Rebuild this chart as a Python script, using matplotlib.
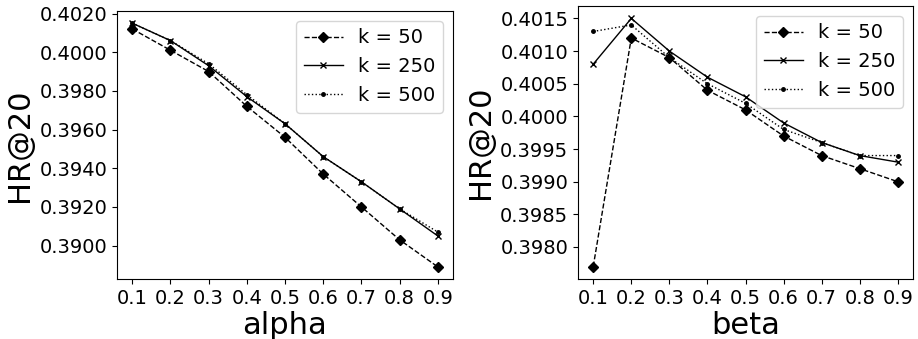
import matplotlib
matplotlib.use("Agg")
import matplotlib.pyplot as plt
from matplotlib.ticker import FormatStrFormatter

# sweep values for the two hyper-parameters
params = [0.1, 0.2, 0.3, 0.4, 0.5, 0.6, 0.7, 0.8, 0.9]
k_labels = ["k = 50", "k = 250", "k = 500"]

# HR@20 while varying alpha
alpha_k50 = [0.4012, 0.4001, 0.3990, 0.3972, 0.3956, 0.3937, 0.3920, 0.3903, 0.3889]
alpha_k250 = [0.4015, 0.4006, 0.3993, 0.3977, 0.3963, 0.3946, 0.3933, 0.3919, 0.3905]
alpha_k500 = [0.4015, 0.4006, 0.3994, 0.3978, 0.3963, 0.3946, 0.3933, 0.3919, 0.3907]

# HR@20 while varying beta
beta_k50 = [0.3977, 0.4012, 0.4009, 0.4004, 0.4001, 0.3997, 0.3994, 0.3992, 0.3990]
beta_k250 = [0.4008, 0.4015, 0.4010, 0.4006, 0.4003, 0.3999, 0.3996, 0.3994, 0.3993]
beta_k500 = [0.4013, 0.4014, 0.4009, 0.4005, 0.4002, 0.3998, 0.3996, 0.3994, 0.3994]

styles = [
    dict(linestyle="--", marker="D", markersize=4.8),
    dict(linestyle="-", marker="x", markersize=4.5),
    dict(linestyle=":", marker=".", markersize=5),
]

fig = plt.figure(figsize=(9.18, 3.39), dpi=100)
ax1 = fig.add_axes([117 / 918, 60 / 339, 336 / 918, 268 / 339])
ax2 = fig.add_axes([578 / 918, 60 / 339, 335 / 918, 273 / 339])


def draw(ax, series, xlabel):
    for ys, lab, st in zip(series, k_labels, styles):
        ax.plot(params, ys, color="black", linewidth=1, label=lab, **st)
    ax.set_xticks(params)
    ax.set_xticklabels([str(p) for p in params])
    ax.yaxis.set_major_formatter(FormatStrFormatter("%.4f"))
    ax.tick_params(labelsize=14)
    ax.set_xlabel(xlabel, fontsize=22, labelpad=2)
    ax.set_ylabel("HR@20", fontsize=22, labelpad=4)
    ax.legend(fontsize=14, loc="upper right")


draw(ax1, [alpha_k50, alpha_k250, alpha_k500], "alpha")
ax1.set_yticks([0.3900, 0.3920, 0.3940, 0.3960, 0.3980, 0.4000, 0.4020])

draw(ax2, [beta_k50, beta_k250, beta_k500], "beta")
ax2.set_yticks([0.3980, 0.3985, 0.3990, 0.3995, 0.4000, 0.4005, 0.4010, 0.4015])

fig.savefig("out.png", dpi=100)
